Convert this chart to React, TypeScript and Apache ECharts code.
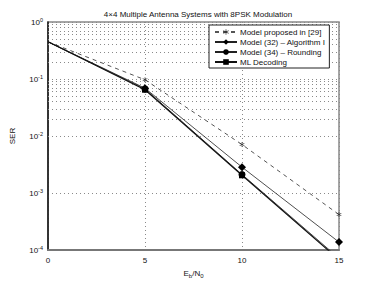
import React, { useEffect, useRef } from "react";
import * as echarts from "echarts";

const xValues = [0, 5, 10, 15];
const proposed29 = [0.45, 0.097, 0.0071, 0.00042];
const algorithm1 = [0.45, 0.069, 0.00285, 0.000138];
const rounding = [0.45, 0.067, 0.00212, 0.000072];
const mlDecoding = [0.45, 0.065, 0.00205, 0.000068];
const seriesNames = [
  "Model proposed in [29]",
  "Model (32) \u2013 Algorithm I",
  "Model (34) \u2013 Rounding",
  "ML Decoding",
];
const yDecades = [-4, -3, -2, -1];
const minorFactors = [2, 3, 4, 5, 6, 7, 8, 9];

const FONT = "Liberation Sans, Arial, Helvetica, sans-serif";
const ASTERISK =
  "path://M-0.12,-1 L0.12,-1 L0.12,-0.2 L0.8,-0.6 L0.92,-0.4 L0.24,0 L0.92,0.4 L0.8,0.6 L0.12,0.2 L0.12,1 L-0.12,1 L-0.12,0.2 L-0.8,0.6 L-0.92,0.4 L-0.24,0 L-0.92,-0.4 L-0.8,-0.6 L-0.12,-0.2 Z";

function toData(vals: number[]) {
  return xValues.map((x, i) =>
    i === 0 ? { value: [x, vals[i]], symbol: "none" } : { value: [x, vals[i]] }
  );
}

export default function App() {
  const ref = useRef<HTMLDivElement>(null);
  useEffect(() => {
    if (!ref.current) return;
    const chart = echarts.init(ref.current, null, { renderer: "svg" });
    const minorLines: any[] = [];
    yDecades.forEach((d) =>
      minorFactors.forEach((k) => minorLines.push({ yAxis: k * Math.pow(10, d) }))
    );
    const gridDots = { type: [1, 3], color: "#8a8a8a", width: 1 };
    const base = {
      type: "line",
      clip: true,
      animation: false,
    };
    chart.setOption({
      animation: false,
      textStyle: { fontFamily: FONT },
      title: {
        text: "4\u00d74 Multiple Antenna Systems with 8PSK Modulation",
        left: 193,
        textAlign: "center",
        top: 5,
        textStyle: { fontSize: 8, fontWeight: "normal", color: "#111", fontFamily: FONT },
      },
      grid: {
        left: 48,
        right: 35,
        top: 22,
        bottom: 32,
        show: true,
        borderColor: "#888",
        borderWidth: 1.5,
        backgroundColor: "transparent",
      },
      legend: {
        left: 209,
        top: 25,
        orient: "vertical",
        backgroundColor: "#fff",
        borderColor: "#222",
        borderWidth: 1,
        borderRadius: 0,
        padding: [3, 4, 2, 5],
        itemGap: 2,
        itemWidth: 22,
        itemHeight: 7,
        textStyle: { fontSize: 8, color: "#111", fontFamily: FONT, padding: [0, 0, 0, -2] },
        data: seriesNames,
      },
      xAxis: {
        type: "value",
        min: 0,
        max: 15,
        interval: 5,
        axisLine: { show: true, lineStyle: { color: "#777", width: 2 } },
        axisTick: { show: false },
        axisLabel: { fontSize: 8, color: "#111", margin: 6 },
        splitLine: { show: true, lineStyle: gridDots },
        name: "{a|E}{s|b}{a|/N}{s|0}",
        nameLocation: "middle",
        nameGap: 16,
        nameTextStyle: {
          rich: {
            a: { fontSize: 8, color: "#111", fontFamily: FONT },
            s: { fontSize: 6, color: "#111", fontFamily: FONT, verticalAlign: "top", padding: [6, 0, 0, 0] },
          },
        },
      },
      yAxis: {
        type: "log",
        logBase: 10,
        min: 1e-4,
        max: 1,
        axisLine: { show: true, onZero: false, lineStyle: { color: "#111", width: 1.5 } },
        axisTick: { show: false },
        minorTick: { show: false },
        axisLabel: {
          margin: 5,
          formatter: (v: number) => `{a|10}{s|${Math.round(Math.log10(v))}}`,
          rich: {
            a: { fontSize: 8, color: "#111", fontFamily: FONT },
            s: { fontSize: 5.5, color: "#111", fontFamily: FONT, verticalAlign: "bottom", padding: [0, 0, 5, 0] },
          },
        },
        splitLine: { show: true, lineStyle: gridDots },
        name: "SER",
        nameLocation: "middle",
        nameRotate: 90,
        nameGap: 32,
        nameTextStyle: { fontSize: 8, color: "#111", fontFamily: FONT },
      },
      series: [
        {
          ...base,
          name: seriesNames[0],
          data: toData(proposed29),
          symbol: ASTERISK,
          symbolSize: 5,
          z: 3,
          itemStyle: { color: "#333" },
          lineStyle: { color: "#555", width: 1, type: [4, 4] },
          markLine: {
            silent: true,
            symbol: "none",
            z: 1,
            label: { show: false },
            emphasis: { disabled: true },
            lineStyle: gridDots,
            data: minorLines,
          },
        },
        {
          ...base,
          name: seriesNames[1],
          data: toData(algorithm1),
          symbol: "diamond",
          symbolSize: 8,
          z: 3,
          itemStyle: { color: "#000" },
          lineStyle: { color: "#222", width: 0.8 },
        },
        {
          ...base,
          name: seriesNames[2],
          data: toData(rounding),
          symbol: "circle",
          symbolSize: 7,
          z: 3,
          itemStyle: { color: "#000" },
          lineStyle: { color: "#222", width: 0.8 },
        },
        {
          ...base,
          name: seriesNames[3],
          data: toData(mlDecoding),
          symbol: "rect",
          symbolSize: 6,
          z: 3,
          itemStyle: { color: "#000" },
          lineStyle: { color: "#111", width: 1.2 },
        },
      ],
    });
    return () => chart.dispose();
  }, []);
  return <div ref={ref} style={{ width: 374, height: 284, position: "absolute", left: 0, top: 0 }} />;
}
